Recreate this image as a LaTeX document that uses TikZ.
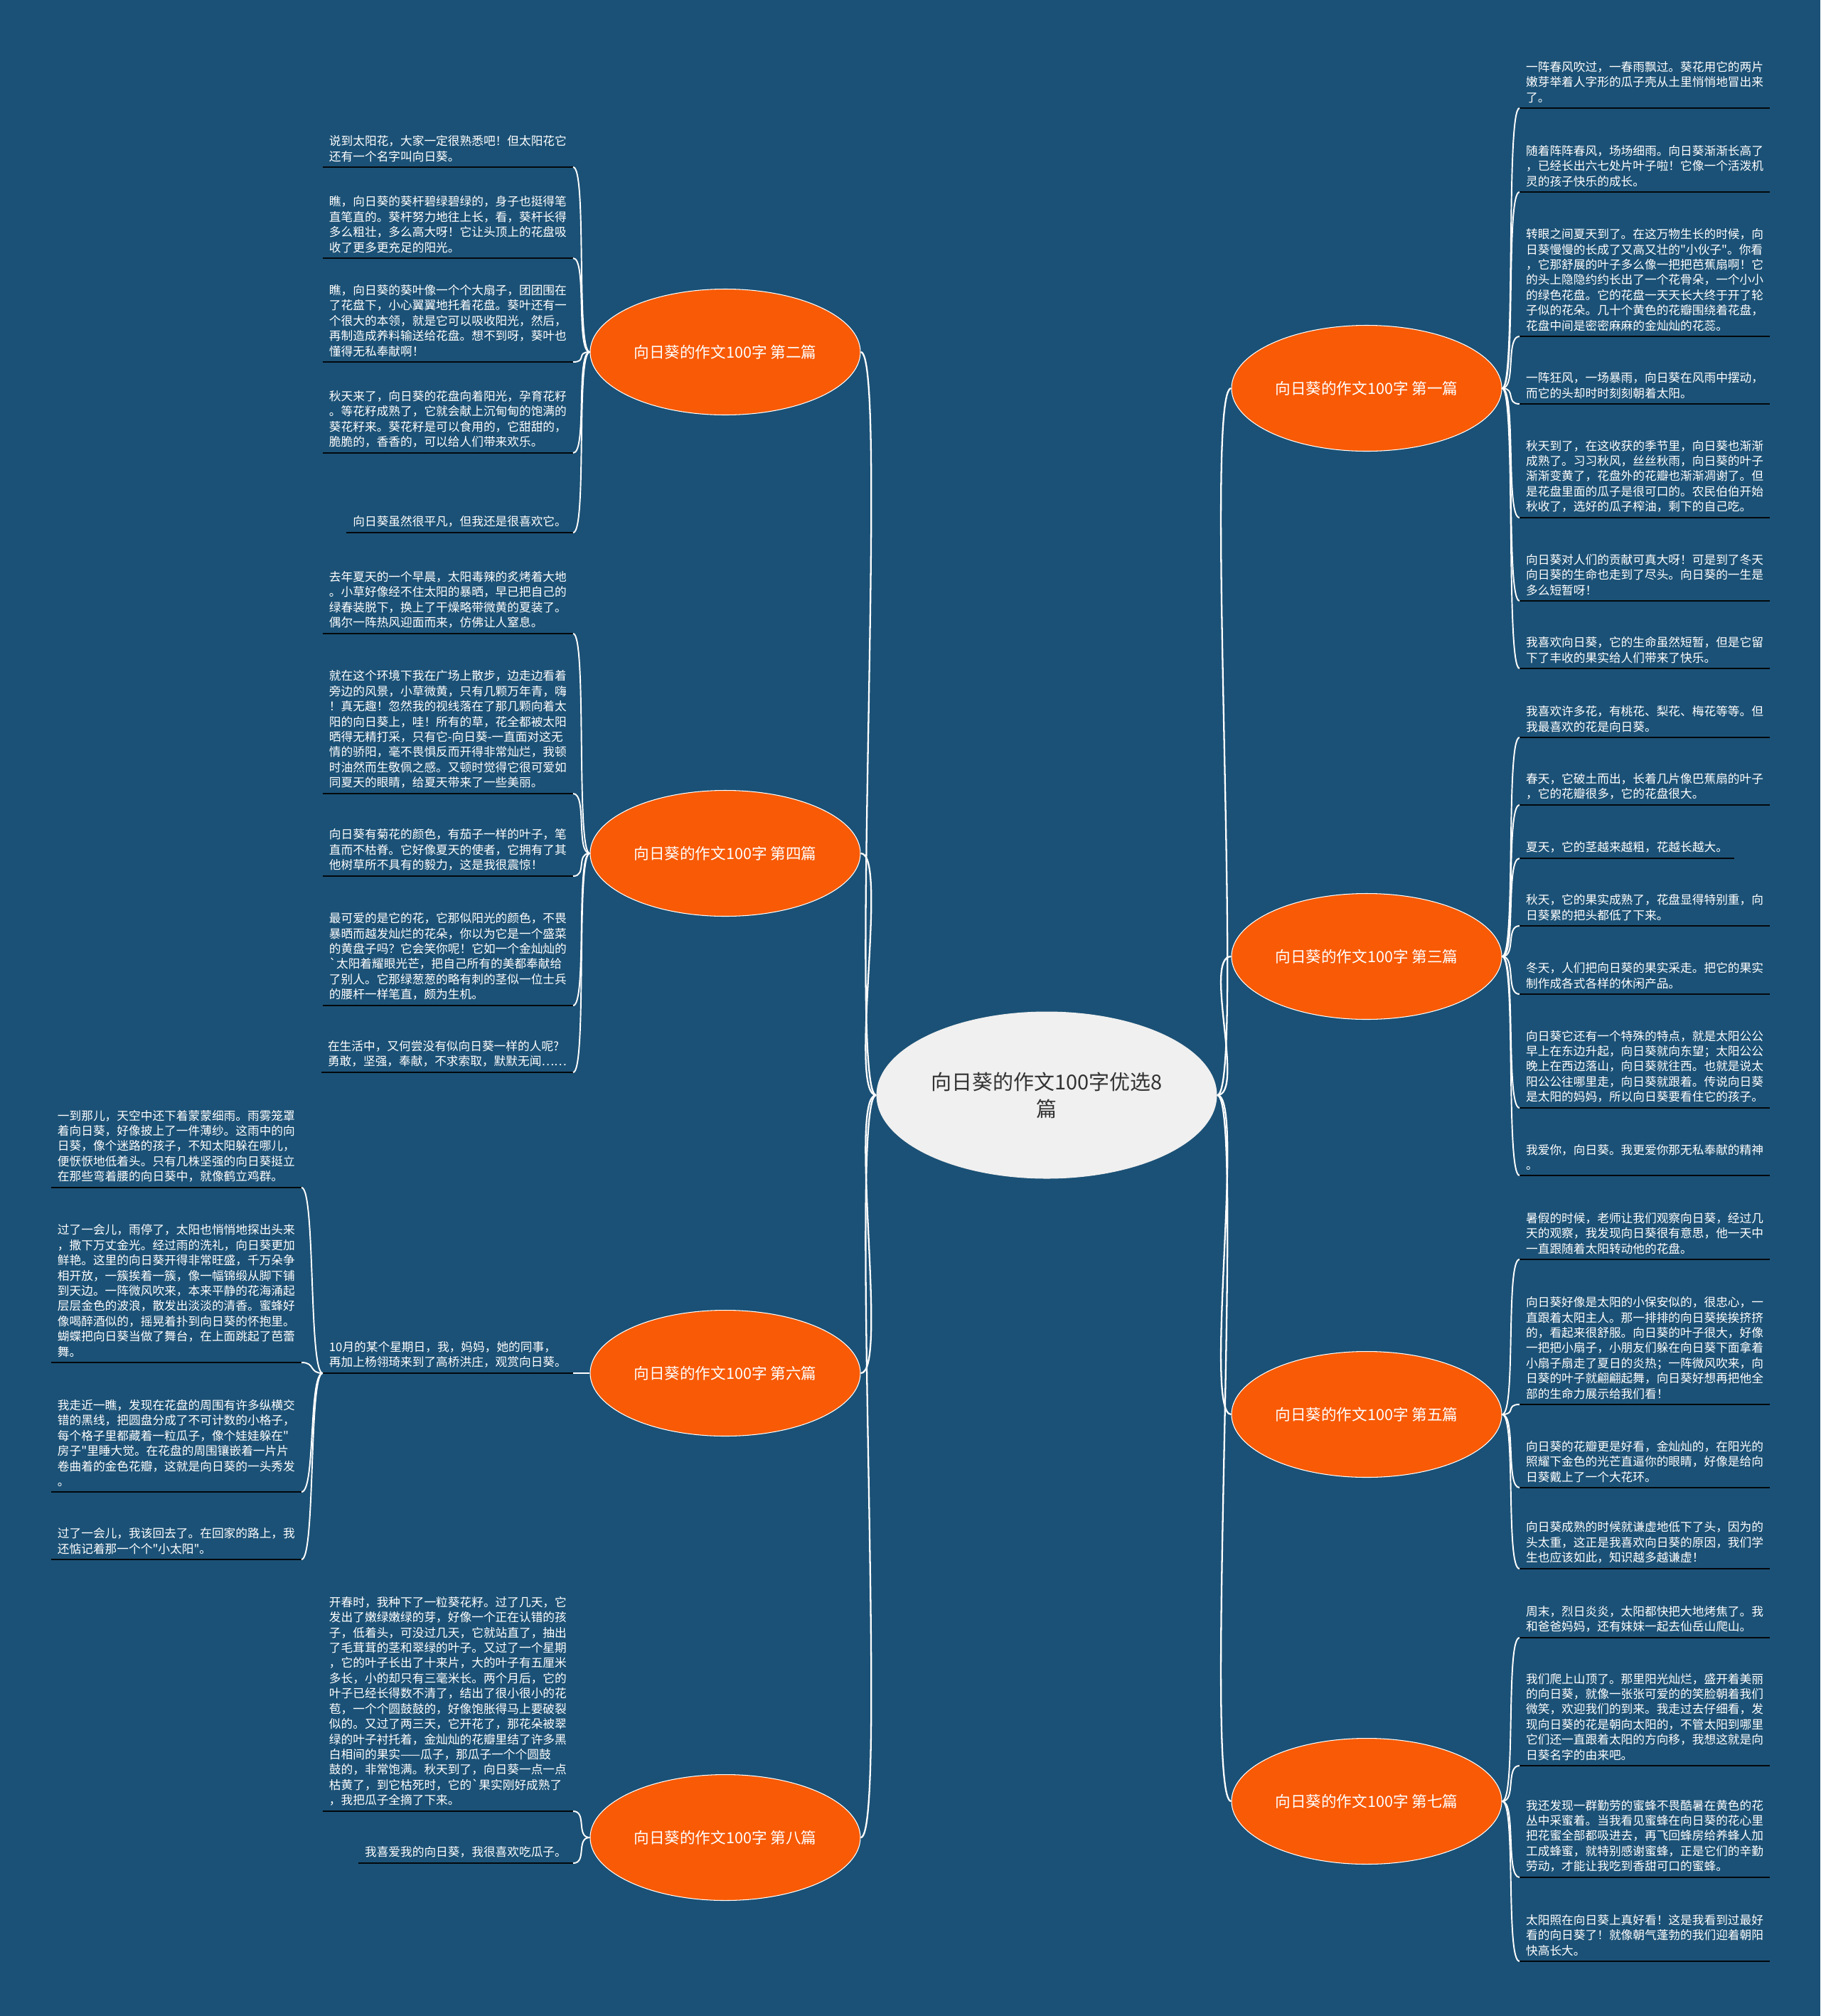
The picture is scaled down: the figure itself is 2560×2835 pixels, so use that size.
\documentclass[tikz,border=0pt]{standalone}
\usepackage{fontspec}
\setmainfont{Noto Sans CJK SC}[Ligatures=TeXOff]
\usetikzlibrary{positioning,shapes.geometric}
\definecolor{mapbg}{HTML}{1B5176}
\definecolor{branchorange}{HTML}{F85A05}
\definecolor{rootgray}{HTML}{F0F0F0}
\definecolor{roottext}{HTML}{333333}
\tikzset{
  root/.style={ellipse, fill=rootgray, text=roottext, minimum width=9.58cm, minimum height=4.7cm,
    font=\fontsize{16.5pt}{21.6pt}\selectfont, align=center},
  branch/.style={ellipse, fill=branchorange, draw=white, line width=0.6pt, text=white,
    minimum width=7.42cm, minimum height=3.54cm, font=\fontsize{12.3pt}{14pt}\selectfont},
  leaf/.style={align=left, text=white, inner xsep=5pt, inner ysep=4pt, font=\fontsize{9.5pt}{12.2pt}\selectfont},
  leafL/.style={leaf, anchor=south east},
  leafR/.style={leaf, anchor=south west},
  uline/.style={line width=1.2pt, black!90!mapbg},
  trunk/.style={white, line width=1.3pt},
  twig/.style={white, line width=1.1pt},
}
\begin{document}
\begin{tikzpicture}[x=0.2mm, y=-0.2mm]
\fill[mapbg] (0,0) rectangle (2560,2835);

% root
\node[root] (root) at (1472,1540) {向日葵的作文100字优选8\\篇};

% branches
\node[branch] (b2) at (1020,495) {向日葵的作文100字 第二篇};
\node[branch] (b4) at (1020,1200) {向日葵的作文100字 第四篇};
\node[branch] (b6) at (1020,1931) {向日葵的作文100字 第六篇};
\node[branch] (b8) at (1020,2584) {向日葵的作文100字 第八篇};
\node[branch] (b1) at (1922,546) {向日葵的作文100字 第一篇};
\node[branch] (b3) at (1922,1345) {向日葵的作文100字 第三篇};
\node[branch] (b5) at (1922,1989) {向日葵的作文100字 第五篇};
\node[branch] (b7) at (1922,2533) {向日葵的作文100字 第七篇};

% 第二篇
\node[leafL] (t21) at (806,235) {说到太阳花，大家一定很熟悉吧！但太阳花它\\还有一个名字叫向日葵。};
\node[leafL] (t22) at (806,363) {瞧，向日葵的葵杆碧绿碧绿的，身子也挺得笔\\直笔直的。葵杆努力地往上长，看，葵杆长得\\多么粗壮，多么高大呀！它让头顶上的花盘吸\\收了更多更充足的阳光。};
\node[leafL] (t23) at (806,509) {瞧，向日葵的葵叶像一个个大扇子，团团围在\\了花盘下，小心翼翼地托着花盘。葵叶还有一\\个很大的本领，就是它可以吸收阳光，然后，\\再制造成养料输送给花盘。想不到呀，葵叶也\\懂得无私奉献啊！};
\node[leafL] (t24) at (806,637) {秋天来了，向日葵的花盘向着阳光，孕育花籽\\。等花籽成熟了，它就会献上沉甸甸的饱满的\\葵花籽来。葵花籽是可以食用的，它甜甜的，\\脆脆的，香香的，可以给人们带来欢乐。};
\node[leafL] (t25) at (806,749) {向日葵虽然很平凡，但我还是很喜欢它。};

% 第四篇
\node[leafL] (t41) at (806,891) {去年夏天的一个早晨，太阳毒辣的炙烤着大地\\。小草好像经不住太阳的暴晒，早已把自己的\\绿春装脱下，换上了干燥略带微黄的夏装了。\\偶尔一阵热风迎面而来，仿佛让人窒息。};
\node[leafL] (t42) at (806,1116) {就在这个环境下我在广场上散步，边走边看着\\旁边的风景，小草微黄，只有几颗万年青，嗨\\！真无趣！忽然我的视线落在了那几颗向着太\\阳的向日葵上，哇！所有的草，花全都被太阳\\晒得无精打采，只有它-向日葵-一直面对这无\\情的骄阳，毫不畏惧反而开得非常灿烂，我顿\\时油然而生敬佩之感。又顿时觉得它很可爱如\\同夏天的眼睛，给夏天带来了一些美丽。};
\node[leafL] (t43) at (806,1232) {向日葵有菊花的颜色，有茄子一样的叶子，笔\\直而不枯脊。它好像夏天的使者，它拥有了其\\他树草所不具有的毅力，这是我很震惊！};
\node[leafL] (t44) at (806,1414) {最可爱的是它的花，它那似阳光的颜色，不畏\\暴晒而越发灿烂的花朵，你以为它是一个盛菜\\的黄盘子吗？它会笑你呢！它如一个金灿灿的\\\textasciigrave 太阳着耀眼光芒，把自己所有的美都奉献给\\了别人。它那绿葱葱的略有刺的茎似一位士兵\\的腰杆一样笔直，颇为生机。};
\node[leafL] (t45) at (806,1508) {在生活中，又何尝没有似向日葵一样的人呢?\\勇敢，坚强，奉献，不求索取，默默无闻……};

% 第六篇
\node[leafL] (t60) at (806,1931) {10月的某个星期日，我，妈妈，她的同事，\\再加上杨翎琦来到了高桥洪庄，观赏向日葵。};
\node[leafL] (t61) at (424,1670) {一到那儿，天空中还下着蒙蒙细雨。雨雾笼罩\\着向日葵，好像披上了一件薄纱。这雨中的向\\日葵，像个迷路的孩子，不知太阳躲在哪儿，\\便恹恹地低着头。只有几株坚强的向日葵挺立\\在那些弯着腰的向日葵中，就像鹤立鸡群。};
\node[leafL] (t62) at (424,1916) {过了一会儿，雨停了，太阳也悄悄地探出头来\\，撒下万丈金光。经过雨的洗礼，向日葵更加\\鲜艳。这里的向日葵开得非常旺盛，千万朵争\\相开放，一簇挨着一簇，像一幅锦缎从脚下铺\\到天边。一阵微风吹来，本来平静的花海涌起\\层层金色的波浪，散发出淡淡的清香。蜜蜂好\\像喝醉酒似的，摇晃着扑到向日葵的怀抱里。\\蝴蝶把向日葵当做了舞台，在上面跳起了芭蕾\\舞。};
\node[leafL] (t63) at (424,2098) {我走近一瞧，发现在花盘的周围有许多纵横交\\错的黑线，把圆盘分成了不可计数的小格子，\\每个格子里都藏着一粒瓜子，像个娃娃躲在"\\房子"里睡大觉。在花盘的周围镶嵌着一片片\\卷曲着的金色花瓣，这就是向日葵的一头秀发\\。};
\node[leafL] (t64) at (424,2193) {过了一会儿，我该回去了。在回家的路上，我\\还惦记着那一个个"小太阳"。};

% 第八篇
\node[leafL] (t81) at (806,2547) {开春时，我种下了一粒葵花籽。过了几天，它\\发出了嫩绿嫩绿的芽，好像一个正在认错的孩\\子，低着头，可没过几天，它就站直了，抽出\\了毛茸茸的茎和翠绿的叶子。又过了一个星期\\，它的叶子长出了十来片，大的叶子有五厘米\\多长，小的却只有三毫米长。两个月后，它的\\叶子已经长得数不清了，结出了很小很小的花\\苞，一个个圆鼓鼓的，好像饱胀得马上要破裂\\似的。又过了两三天，它开花了，那花朵被翠\\绿的叶子衬托着，金灿灿的花瓣里结了许多黑\\白相间的果实——瓜子，那瓜子一个个圆鼓\\鼓的，非常饱满。秋天到了，向日葵一点一点\\枯黄了，到它枯死时，它的\textasciigrave 果实刚好成熟了\\，我把瓜子全摘了下来。};
\node[leafL] (t82) at (806,2620) {我喜爱我的向日葵，我很喜欢吃瓜子。};

% 第一篇
\node[leafR] (t11) at (2137,152) {一阵春风吹过，一春雨飘过。葵花用它的两片\\嫩芽举着人字形的瓜子壳从土里悄悄地冒出来\\了。};
\node[leafR] (t12) at (2137,270) {随着阵阵春风，场场细雨。向日葵渐渐长高了\\，已经长出六七处片叶子啦！它像一个活泼机\\灵的孩子快乐的成长。};
\node[leafR] (t13) at (2137,473) {转眼之间夏天到了。在这万物生长的时候，向\\日葵慢慢的长成了又高又壮的"小伙子"。你看\\，它那舒展的叶子多么像一把把芭蕉扇啊！它\\的头上隐隐约约长出了一个花骨朵，一个小小\\的绿色花盘。它的花盘一天天长大终于开了轮\\子似的花朵。几十个黄色的花瓣围绕着花盘，\\花盘中间是密密麻麻的金灿灿的花蕊。};
\node[leafR] (t14) at (2137,568) {一阵狂风，一场暴雨，向日葵在风雨中摆动，\\而它的头却时时刻刻朝着太阳。};
\node[leafR] (t15) at (2137,728) {秋天到了，在这收获的季节里，向日葵也渐渐\\成熟了。习习秋风，丝丝秋雨，向日葵的叶子\\渐渐变黄了，花盘外的花瓣也渐渐凋谢了。但\\是花盘里面的瓜子是很可口的。农民伯伯开始\\秋收了，选好的瓜子榨油，剩下的自己吃。};
\node[leafR] (t16) at (2137,845) {向日葵对人们的贡献可真大呀！可是到了冬天\\向日葵的生命也走到了尽头。向日葵的一生是\\多么短暂呀！};
\node[leafR] (t17) at (2137,940) {我喜欢向日葵，它的生命虽然短暂，但是它留\\下了丰收的果实给人们带来了快乐。};

% 第三篇
\node[leafR] (t31) at (2137,1037) {我喜欢许多花，有桃花、梨花、梅花等等。但\\我最喜欢的花是向日葵。};
\node[leafR] (t32) at (2137,1132) {春天，它破土而出，长着几片像巴蕉扇的叶子\\，它的花瓣很多，它的花盘很大。};
\node[leafR] (t33) at (2137,1207) {夏天，它的茎越来越粗，花越长越大。};
\node[leafR] (t34) at (2137,1302) {秋天，它的果实成熟了，花盘显得特别重，向\\日葵累的把头都低了下来。};
\node[leafR] (t35) at (2137,1398) {冬天，人们把向日葵的果实采走。把它的果实\\制作成各式各样的休闲产品。};
\node[leafR] (t36) at (2137,1558) {向日葵它还有一个特殊的特点，就是太阳公公\\早上在东边升起，向日葵就向东望；太阳公公\\晚上在西边落山，向日葵就往西。也就是说太\\阳公公往哪里走，向日葵就跟着。传说向日葵\\是太阳的妈妈，所以向日葵要看住它的孩子。};
\node[leafR] (t37) at (2137,1653) {我爱你，向日葵。我更爱你那无私奉献的精神\\。};

% 第五篇
\node[leafR] (t51) at (2137,1771) {暑假的时候，老师让我们观察向日葵，经过几\\天的观察，我发现向日葵很有意思，他一天中\\一直跟随着太阳转动他的花盘。};
\node[leafR] (t52) at (2137,1975) {向日葵好像是太阳的小保安似的，很忠心，一\\直跟着太阳主人。那一排排的向日葵挨挨挤挤\\的，看起来很舒服。向日葵的叶子很大，好像\\一把把小扇子，小朋友们躲在向日葵下面拿着\\小扇子扇走了夏日的炎热；一阵微风吹来，向\\日葵的叶子就翩翩起舞，向日葵好想再把他全\\部的生命力展示给我们看！};
\node[leafR] (t53) at (2137,2092) {向日葵的花瓣更是好看，金灿灿的，在阳光的\\照耀下金色的光芒直逼你的眼睛，好像是给向\\日葵戴上了一个大花环。};
\node[leafR] (t54) at (2137,2206) {向日葵成熟的时候就谦虚地低下了头，因为的\\头太重，这正是我喜欢向日葵的原因，我们学\\生也应该如此，知识越多越谦虚！};

% 第七篇
\node[leafR] (t71) at (2137,2303) {周末，烈日炎炎，太阳都快把大地烤焦了。我\\和爸爸妈妈，还有妹妹一起去仙岳山爬山。};
\node[leafR] (t72) at (2137,2483) {我们爬上山顶了。那里阳光灿烂，盛开着美丽\\的向日葵，就像一张张可爱的的笑脸朝着我们\\微笑，欢迎我们的到来。我走过去仔细看，发\\现向日葵的花是朝向太阳的，不管太阳到哪里\\它们还一直跟着太阳的方向移，我想这就是向\\日葵名字的由来吧。};
\node[leafR] (t73) at (2137,2640) {我还发现一群勤劳的蜜蜂不畏酷暑在黄色的花\\丛中采蜜着。当我看见蜜蜂在向日葵的花心里\\把花蜜全部都吸进去，再飞回蜂房给养蜂人加\\工成蜂蜜，就特别感谢蜜蜂，正是它们的辛勤\\劳动，才能让我吃到香甜可口的蜜蜂。};
\node[leafR] (t74) at (2137,2758) {太阳照在向日葵上真好看！这是我看到过最好\\看的向日葵了！就像朝气蓬勃的我们迎着朝阳\\快高长大。};

% underlines
\foreach \t in {t21,t22,t23,t24,t25,t41,t42,t43,t44,t45,t60,t61,t62,t63,t64,t81,t82,
  t11,t12,t13,t14,t15,t16,t17,t31,t32,t33,t34,t35,t36,t37,t51,t52,t53,t54,t71,t72,t73,t74}
  \draw[uline] (\t.south west) -- (\t.south east);

% root to branches
\foreach \b in {b2,b4,b6,b8}
  \draw[trunk] (root.west) to[out=180,in=0,distance=8mm] (\b.east);
\foreach \b in {b1,b3,b5,b7}
  \draw[trunk] (root.east) to[out=0,in=180,distance=8mm] (\b.west);

% branches to texts
\foreach \t in {t21,t22,t23,t24,t25}
  \draw[twig] (b2.west) to[out=180,in=0,distance=4mm] (\t.south east);
\foreach \t in {t41,t42,t43,t44,t45}
  \draw[twig] (b4.west) to[out=180,in=0,distance=4mm] (\t.south east);
\draw[twig] (b6.west) -- (t60.south east);
\foreach \t in {t61,t62,t63,t64}
  \draw[twig] (t60.south west) to[out=180,in=0,distance=4mm] (\t.south east);
\foreach \t in {t81,t82}
  \draw[twig] (b8.west) to[out=180,in=0,distance=4mm] (\t.south east);
\foreach \t in {t11,t12,t13,t14,t15,t16,t17}
  \draw[twig] (b1.east) to[out=0,in=180,distance=4mm] (\t.south west);
\foreach \t in {t31,t32,t33,t34,t35,t36,t37}
  \draw[twig] (b3.east) to[out=0,in=180,distance=4mm] (\t.south west);
\foreach \t in {t51,t52,t53,t54}
  \draw[twig] (b5.east) to[out=0,in=180,distance=4mm] (\t.south west);
\foreach \t in {t71,t72,t73,t74}
  \draw[twig] (b7.east) to[out=0,in=180,distance=4mm] (\t.south west);
\end{tikzpicture}
\end{document}
